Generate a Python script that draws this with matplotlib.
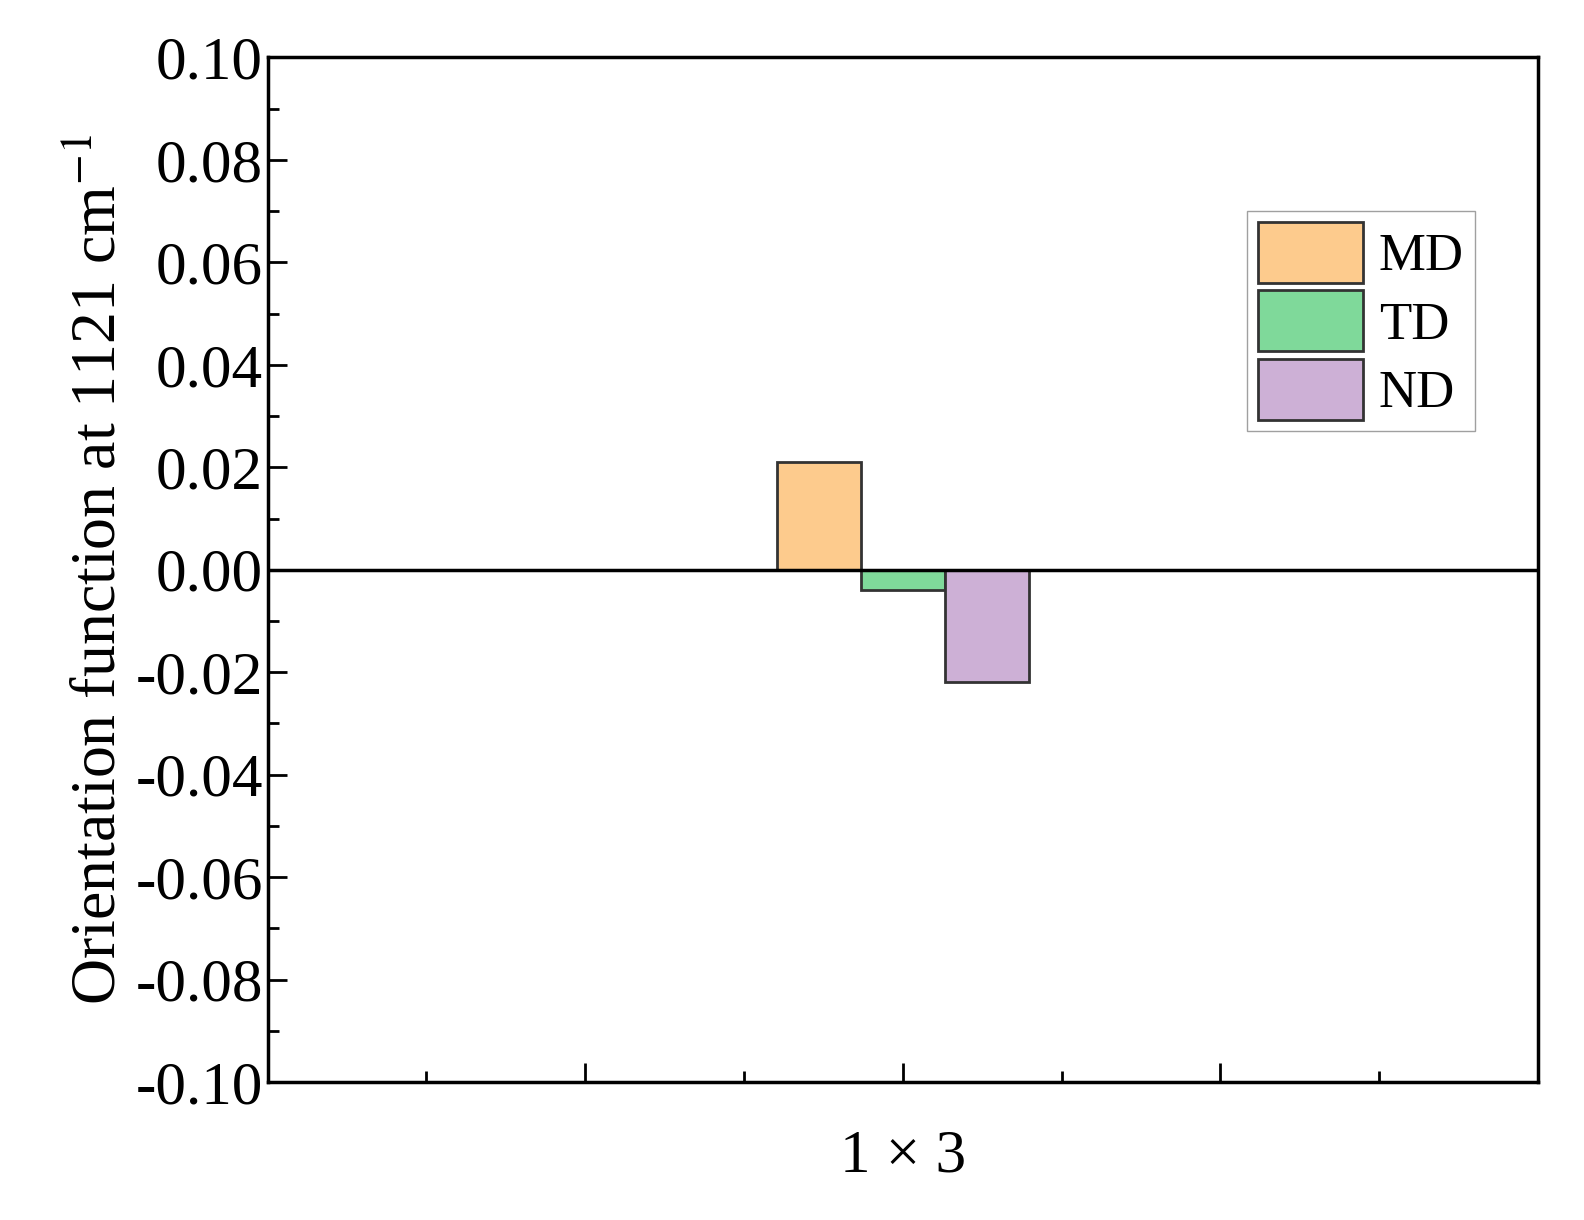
import matplotlib
matplotlib.use("Agg")
import matplotlib.pyplot as plt
from matplotlib.ticker import MultipleLocator

plt.rcParams['font.family'] = ['Liberation Serif', 'DejaVu Serif']
plt.rcParams['mathtext.fontset'] = 'stix'

series = ['MD', 'TD', 'ND']
values = [0.021, -0.004, -0.022]
colors = ['#fdcb8d', '#7fd99a', '#cdb0d6']
offsets = [-0.265, 0.0, 0.265]
category = '1 × 3'
yticks = [-0.10, -0.08, -0.06, -0.04, -0.02, 0.00, 0.02, 0.04, 0.06, 0.08, 0.10]

fig = plt.figure(figsize=(15.84, 12.2), dpi=100)
ax = fig.add_axes([0.169, 0.113, 0.802, 0.84])

for name, v, c, off in zip(series, values, colors, offsets):
    ax.bar(2 + off, v, width=0.265, color=c, edgecolor='#333333', linewidth=2, label=name)

ax.axhline(0, color='black', linewidth=2.5)
ax.set_xlim(0, 4)
ax.set_ylim(-0.1, 0.1)
ax.set_yticks(yticks)
ax.set_yticklabels([f"{abs(t):.2f}" if abs(t) < 1e-9 else f"{t:.2f}" for t in yticks])
ax.yaxis.set_minor_locator(MultipleLocator(0.01))
ax.xaxis.set_major_locator(MultipleLocator(1))
ax.xaxis.set_minor_locator(MultipleLocator(0.5))
ax.set_xticklabels([])
ax.tick_params(which='both', direction='in', width=2, labelsize=44)
ax.tick_params(which='major', length=14)
ax.tick_params(which='minor', length=8)
for s in ax.spines.values():
    s.set_linewidth(2.5)

ax.set_xlabel(category, fontsize=44, labelpad=30)
ax.set_ylabel('Orientation function at 1121 cm$^{-1}$', fontsize=46, labelpad=4)

ax.legend(loc='upper right', bbox_to_anchor=(0.95, 0.85), fontsize=38, fancybox=False,
          edgecolor='#888888', handlelength=2.0, handleheight=1.4, borderpad=0.2,
          labelspacing=0.15, handletextpad=0.3, borderaxespad=0)

fig.savefig('out.png', dpi=100)
